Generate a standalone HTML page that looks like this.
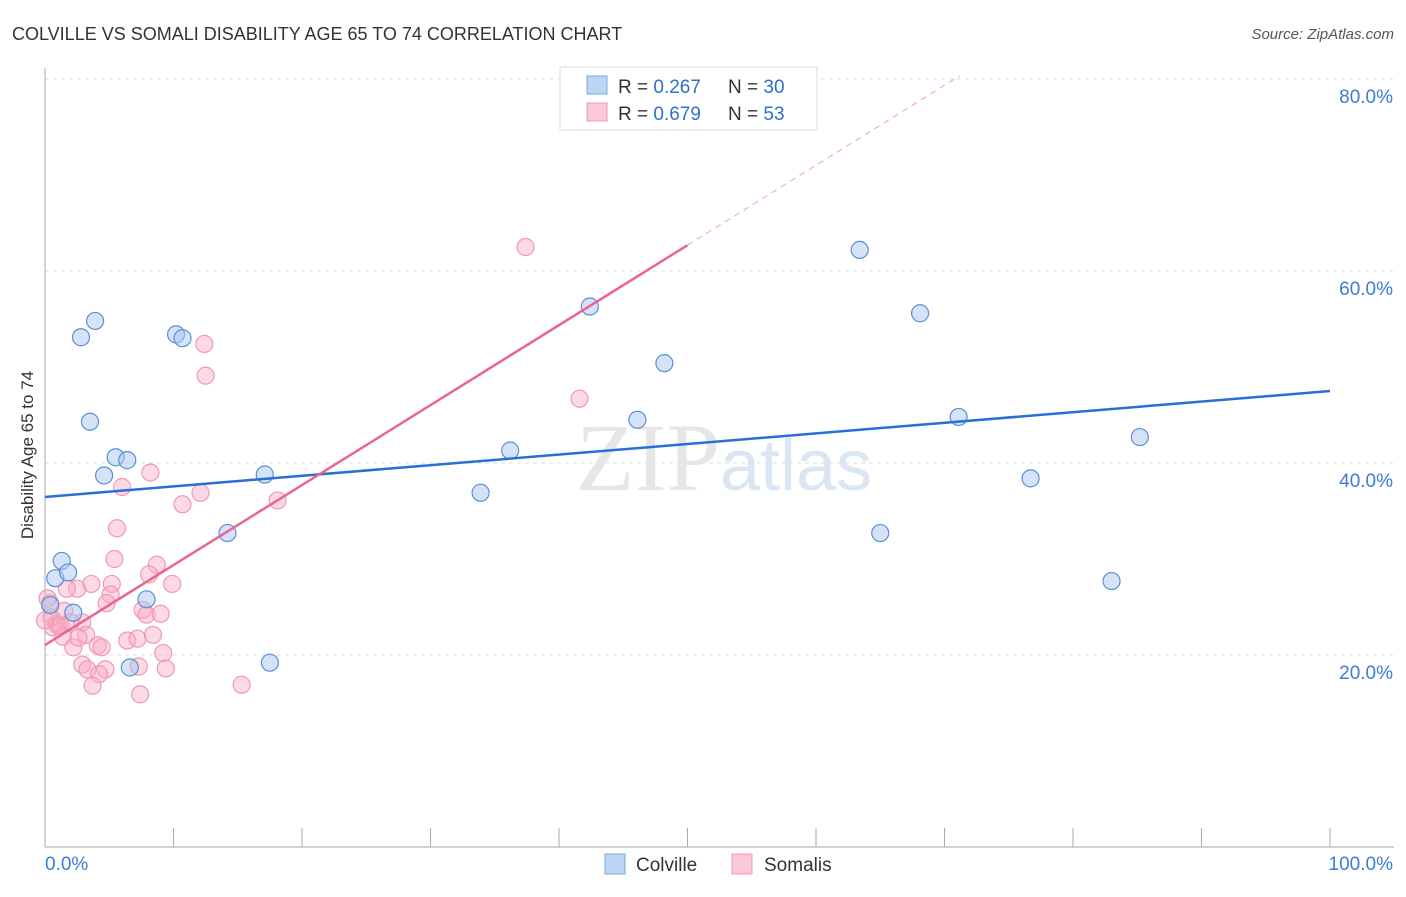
<!DOCTYPE html>
<html><head><meta charset="utf-8"><style>
body{margin:0;background:#fff;font-family:"Liberation Sans",sans-serif}
</style></head><body>
<svg width="1406" height="892" xmlns="http://www.w3.org/2000/svg" font-family="Liberation Sans, sans-serif">
<text x="12" y="40" font-size="18" fill="#333">COLVILLE VS SOMALI DISABILITY AGE 65 TO 74 CORRELATION CHART</text>
<text x="1394" y="39" font-size="15" fill="#555" text-anchor="end" font-style="italic">Source: ZipAtlas.com</text>
<g id="grid"></g>
<text x="720" y="490" font-size="96" fill="#e6e6e6" text-anchor="end" font-family="Liberation Serif, serif">ZIP</text>
<text x="720" y="490" font-size="72" fill="#dbe6f5">atlas</text>
<g id="pts"></g>
<g id="lines"></g>
<text transform="translate(33,455) rotate(-90)" font-size="17" fill="#333" text-anchor="middle">Disability Age 65 to 74</text>
<g>
<rect x="560" y="67" width="257" height="63" fill="#fff" stroke="#ddd"/>
<rect x="587" y="76" width="20" height="18" fill="#bcd5f5" stroke="#7aa7e0"/>
<rect x="587" y="103" width="20" height="18" fill="#fcc7d6" stroke="#ee9ab3"/>
<text x="618" y="93" font-size="19" fill="#333">R = <tspan fill="#2f6fcf">0.267</tspan><tspan x="728">N = </tspan><tspan fill="#2f6fcf">30</tspan></text>
<text x="618" y="120" font-size="19" fill="#333">R = <tspan fill="#2f6fcf">0.679</tspan><tspan x="728">N = </tspan><tspan fill="#2f6fcf">53</tspan></text>
</g>
<g>
<rect x="605" y="854" width="20" height="20" fill="#bcd5f5" stroke="#7aa7e0"/>
<text x="636" y="871" font-size="19" fill="#333">Colville</text>
<rect x="732" y="854" width="20" height="20" fill="#fcc7d6" stroke="#ee9ab3"/>
<text x="764" y="871" font-size="19" fill="#333">Somalis</text>
</g>
</svg>
<script>
const yTicks=[20,40,60,80];
const xTickLabels=["0.0%","100.0%"];
const colvilleX=[0.4,0.8,1.3,1.8,2.2,2.8,3.5,3.9,4.6,5.5,6.4,6.6,7.9,10.2,10.7,14.2,17.1,17.5,33.9,36.2,42.4,46.1,48.2,63.4,65.0,68.1,71.1,76.7,83.0,85.2];
const colvilleY=[25.2,28.0,29.8,28.6,24.4,53.1,44.3,54.8,38.7,40.6,40.3,18.7,25.8,53.4,53.0,32.7,38.8,19.2,36.9,41.3,56.3,44.5,50.4,62.2,32.7,55.6,44.8,38.4,27.7,42.7];
const somaliX=[8.2,6.0,12.1,10.7,18.1,5.6,5.4,8.7,8.1,3.6,5.2,9.9,2.5,1.7,5.1,4.8,0.4,7.6,7.9,9.0,2.9,0.9,0.6,1.2,1.4,3.2,2.2,4.1,4.4,6.4,7.2,8.4,9.2,2.9,3.3,4.7,4.2,7.3,9.4,3.7,7.4,15.3,37.4,41.6,12.4,12.5,0.2,0.5,1.0,0.0,1.5,2.0,2.6];
const somaliY=[39.0,37.5,36.9,35.7,36.1,33.2,30.0,29.4,28.4,27.4,27.4,27.4,26.9,26.9,26.3,25.4,25.4,24.7,24.2,24.3,23.4,23.3,22.9,23.1,21.9,22.1,20.8,21.0,20.8,21.5,21.7,22.1,20.2,19.0,18.5,18.5,18.0,18.8,18.6,16.8,15.9,16.9,62.5,46.7,52.4,49.1,25.9,23.9,23.1,23.6,24.6,23.4,21.8];
const blueLine=[36.46,47.5];
const pinkLine=[21.04,0.833];
const X=v=>45+v*12.85, Y=v=>847-v*9.6;
const ns="http://www.w3.org/2000/svg";
function mk(t,a,p){const e=document.createElementNS(ns,t);for(const k in a)e.setAttribute(k,a[k]);p.appendChild(e);return e;}
const g=document.getElementById('grid');
yTicks.forEach(t=>{const l=mk('line',{x1:45,x2:1394,y1:Y(t),y2:Y(t),stroke:'#ddd','stroke-dasharray':'4,4'},g);


const tx=mk('text',{x:1393,y:Y(t)+24,'font-size':19,fill:'#3d7bd8','text-anchor':'end'},g);tx.textContent=t.toFixed(1)+'%';

});
mk('line',{x1:45,x2:45,y1:68,y2:847,stroke:'#aaa'},g);
mk('line',{x1:45,x2:1394,y1:847,y2:847,stroke:'#aaa'},g);
for(let i=0;i<=10;i++){mk('line',{x1:X(i*10),x2:X(i*10),y1:828,y2:847,stroke:'#aaa'},g);}
xTickLabels.forEach((s,i)=>{const tx=mk('text',{x:i?1393:45,y:870,'font-size':19,fill:'#3d7bd8','text-anchor':i?'end':'start'},g);tx.textContent=s;

});
const p=document.getElementById('pts');
somaliX.forEach((x,i)=>{const c=mk('circle',{cx:X(x),cy:Y(somaliY[i]),r:8.5,fill:'rgba(248,170,195,0.45)',stroke:'#ee9ab3','stroke-width':1.2},p);

});
colvilleX.forEach((x,i)=>{const c=mk('circle',{cx:X(x),cy:Y(colvilleY[i]),r:8.5,fill:'rgba(170,200,240,0.5)',stroke:'#5b8fd6','stroke-width':1.2},p);

});
const L=document.getElementById('lines');
let b=mk('line',{x1:X(0),y1:Y(blueLine[0]),x2:X(100),y2:Y(blueLine[1]),stroke:'#2a6fd4','stroke-width':2.5},L);


let pk=mk('line',{x1:X(0),y1:Y(pinkLine[0]),x2:X(50),y2:Y(pinkLine[0]+50*pinkLine[1]),stroke:'#e8668f','stroke-width':2.5},L);


let pd=mk('line',{x1:X(50),y1:Y(pinkLine[0]+50*pinkLine[1]),x2:X(71.2),y2:Y(pinkLine[0]+71.2*pinkLine[1]),stroke:'#f0a0b8','stroke-width':1,'stroke-dasharray':'6,5'},L);


</script>
</body></html>
